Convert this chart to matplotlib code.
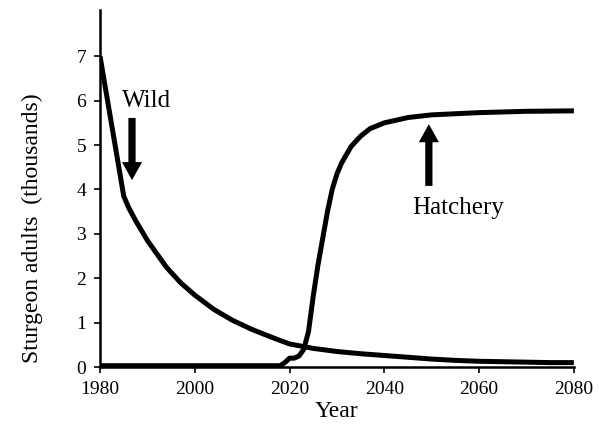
import matplotlib.pyplot as plt

plt.rcParams['font.family'] = ['Liberation Serif', 'DejaVu Serif']

# Wild population (thousands)
wild_years = [1980, 1985, 1986, 1987.5, 1990, 1992, 1994, 1997, 2000, 2004, 2008,
              2012, 2016, 2020, 2025, 2030, 2035, 2040, 2045, 2050, 2055, 2060,
              2065, 2070, 2075, 2080]
wild_vals = [7.0, 3.85, 3.6, 3.3, 2.85, 2.55, 2.25, 1.9, 1.62, 1.3, 1.05,
             0.85, 0.68, 0.52, 0.42, 0.35, 0.3, 0.26, 0.22, 0.18, 0.15, 0.13,
             0.12, 0.11, 0.1, 0.1]

# Hatchery population (thousands)
hatch_years = [1980, 2018, 2019, 2020, 2021, 2022, 2023, 2024, 2025, 2026, 2027,
               2028, 2029, 2030, 2031, 2033, 2035, 2037, 2040, 2045, 2050,
               2060, 2070, 2080]
hatch_vals = [0.03, 0.03, 0.1, 0.2, 0.2, 0.25, 0.4, 0.8, 1.6, 2.3, 2.9,
              3.5, 4.0, 4.35, 4.6, 4.97, 5.2, 5.37, 5.5, 5.62, 5.68,
              5.73, 5.76, 5.77]

x_ticks = [1980, 2000, 2020, 2040, 2060, 2080]
y_ticks = [0, 1, 2, 3, 4, 5, 6, 7]

fig = plt.figure(figsize=(5.99, 4.38), dpi=100)
ax = fig.add_axes([0.167, 0.162, 0.791, 0.815])

ax.plot(wild_years, wild_vals, color='black', lw=3.6, solid_capstyle='butt')
ax.plot(hatch_years, hatch_vals, color='black', lw=3.6, solid_capstyle='butt')

ax.set_xlim(1980, 2080)
ax.set_ylim(0, 8.04)
ax.set_xticks(x_ticks)
ax.set_yticks(y_ticks)
ax.tick_params(direction='out', length=4, width=1.2, labelsize=14, pad=6)
for s in ['top', 'right']:
    ax.spines[s].set_visible(False)
for s in ['left', 'bottom']:
    ax.spines[s].set_linewidth(1.8)

ax.set_xlabel('Year', fontsize=17, labelpad=2)
ax.set_ylabel('Sturgeon adults  (thousands)', fontsize=17)
ax.yaxis.set_label_coords(-0.12, 0.39)

arrow_style = 'simple,head_length=1.3,head_width=1.45,tail_width=0.52'

ax.text(1984.6, 6.0, 'Wild', fontsize=18, va='center', ha='left')
ax.annotate('', xy=(1986.75, 4.21), xytext=(1986.75, 5.61),
            arrowprops=dict(arrowstyle=arrow_style, mutation_scale=10,
                            fc='black', ec='none', shrinkA=0, shrinkB=0))
ax.text(2055.5, 3.58, 'Hatchery', fontsize=18, va='center', ha='center')
ax.annotate('', xy=(2049.4, 5.47), xytext=(2049.4, 4.08),
            arrowprops=dict(arrowstyle=arrow_style, mutation_scale=10,
                            fc='black', ec='none', shrinkA=0, shrinkB=0))

plt.savefig('out.png', dpi=100)
